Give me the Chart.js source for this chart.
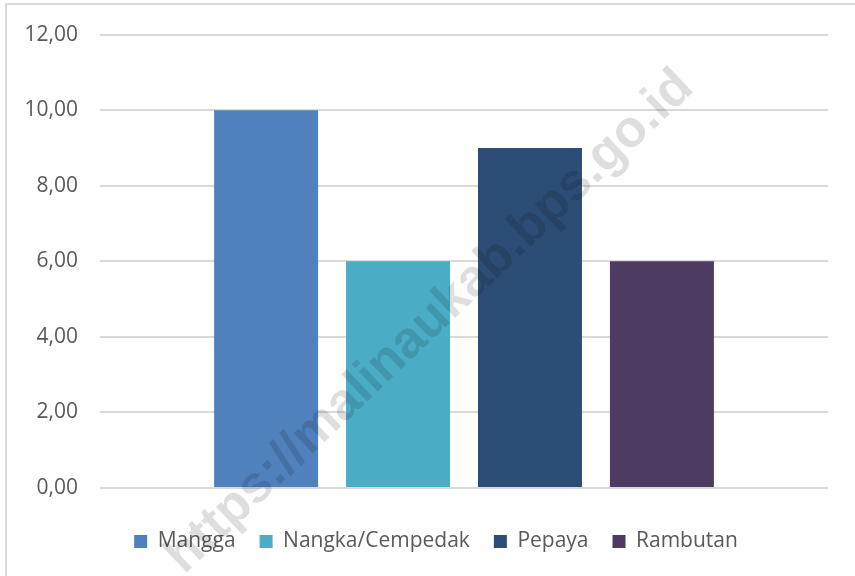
<!DOCTYPE html>
<html>
<head>
<meta charset="utf-8">
<script src="https://cdn.jsdelivr.net/npm/chart.js@4.4.1/dist/chart.umd.min.js"></script>
<style>
  body { margin:0; background:#fff; }
  #wrap { position:relative; width:855px; height:576px; }
  #frame { position:absolute; left:5px; top:3px; width:900px; height:700px; border-left:2px solid #d9d9d9; border-top:2px solid #d9d9d9; pointer-events:none; }
</style>
</head>
<body>
<div id="wrap">
  <canvas id="myChart" width="855" height="576"></canvas>
  <div id="frame"></div>
</div>
<script>
var categories = ['']
var series_names = ['Mangga', 'Nangka/Cempedak', 'Pepaya', 'Rambutan']
var series_values = [[10], [6], [9], [6]]
var series_colors = ['#4f81bd', '#4bacc6', '#2c4d75', '#4d3b62']
var y_ticks = [0, 2, 4, 6, 8, 10, 12]

var watermark = 'https://malinaukab.bps.go.id'

// watermark drawn over everything, legend nudged to the right like the original
var watermarkPlugin = {
    id:'watermark',
    beforeDraw:function(chart){
        if(chart.legend){
            chart.legend.left = 44
        }
    },
    afterDraw:function(chart){
        var c = chart.ctx
        c.save()
        c.translate(430, 322)
        c.rotate(-43.5 * Math.PI / 180)
        c.font = 'bold 52px "Liberation Sans", Arial, sans-serif'
        c.fillStyle = 'rgba(0,0,0,0.13)'
        c.textAlign = 'center'
        c.textBaseline = 'middle'
        c.fillText(watermark, 0, 0)
        c.restore()
    }
}

var datasets = []
for(var i = 0 ; i < series_names.length ; i++){
    datasets.push({
        label:series_names[i],
        data:series_values[i],
        backgroundColor:series_colors[i],
        borderWidth:0,
        barPercentage:0.788,
        categoryPercentage:0.725
    })
}

var ctx = document.getElementById('myChart').getContext('2d')
var chart1 = new Chart(ctx, {
    type:'bar',
    plugins:[watermarkPlugin],
    data:{
        labels:categories,
        datasets:datasets
    },
    options:{
        responsive:false,
        animation:false,
        layout:{
            padding:{ left:0, right:27, top:23, bottom:14 }
        },
        scales:{
            x:{
                grid:{ display:false },
                border:{ display:false },
                ticks:{ display:false },
                afterFit:function(scale){ scale.height = 19 }
            },
            y:{
                min:0,
                max:12,
                afterBuildTicks:function(scale){
                    scale.ticks = y_ticks.map(function(v){ return { value:v } })
                },
                afterFit:function(scale){ scale.width = 100 },
                border:{ display:false },
                grid:{
                    color:'#d9d9d9',
                    lineWidth:2,
                    drawTicks:false
                },
                ticks:{
                    padding:22,
                    color:'#595959',
                    font:{ family:'"Open Sans", sans-serif', size:21 },
                    callback:function(v){ return v.toFixed(2).replace('.', ',') }
                }
            }
        },
        plugins:{
            legend:{
                display:true,
                position:'bottom',
                labels:{
                    boxWidth:13,
                    boxHeight:13,
                    padding:24,
                    color:'#595959',
                    font:{ family:'"Open Sans", sans-serif', size:21 }
                }
            },
            tooltip:{ enabled:false }
        }
    }
})
</script>
</body>
</html>
